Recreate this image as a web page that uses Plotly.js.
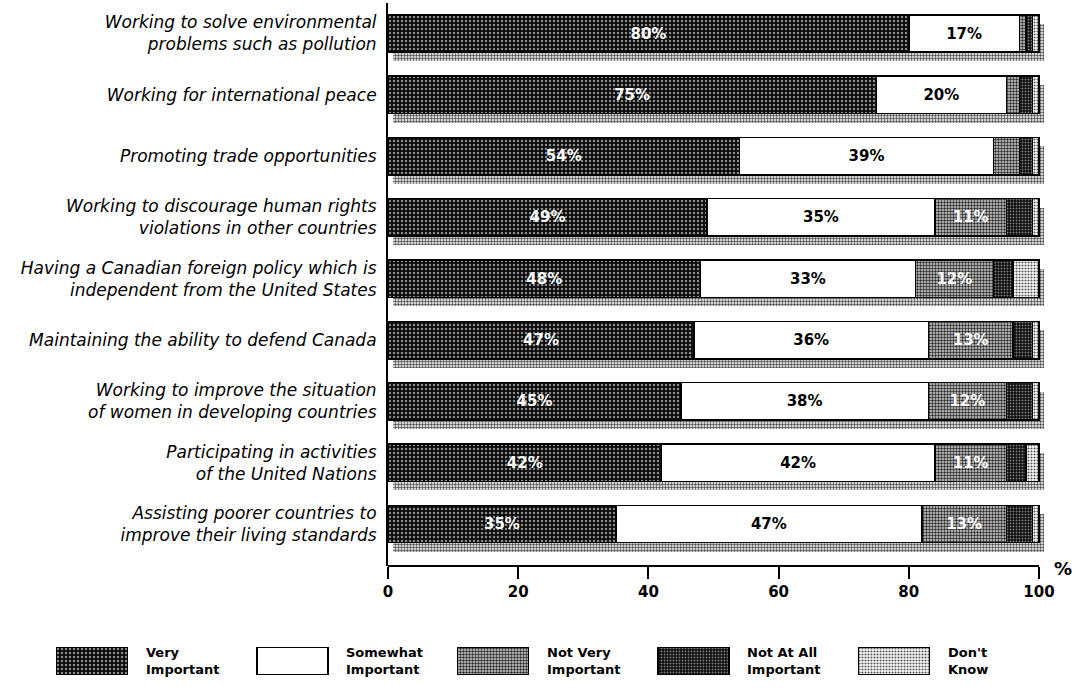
<!DOCTYPE html>
<html>
<head>
<meta charset="utf-8">
<script src="https://cdn.plot.ly/plotly-3.0.1.min.js"></script>
<style>html,body{margin:0;padding:0;background:#fff;}#chart{width:1076px;height:691px;}</style>
</head>
<body>
<div id="chart"></div>
<script>
// ---- data ----
const categories = [
  "Working to solve environmental<br>problems such as pollution",
  "Working for international peace",
  "Promoting trade opportunities",
  "Working to discourage human rights<br>violations in other countries",
  "Having a Canadian foreign policy which is<br>independent from the United States",
  "Maintaining the ability to defend Canada",
  "Working to improve the situation<br>of women in developing countries",
  "Participating in activities<br>of the United Nations",
  "Assisting poorer countries to<br>improve their living standards"
];
const veryImportant     = [80, 75, 54, 49, 48, 47, 45, 42, 35];
const somewhatImportant = [17, 20, 39, 35, 33, 36, 38, 42, 47];
const notVeryImportant  = [ 1,  2,  4, 11, 12, 13, 12, 11, 13];
const notAtAllImportant = [ 1,  2,  2,  4,  3,  3,  4,  3,  4];
const dontKnow          = [ 1,  1,  1,  1,  4,  1,  1,  2,  1];
const seriesNames = ["Very<br>Important", "Somewhat<br>Important", "Not Very<br>Important", "Not At All<br>Important", "Don't<br>Know"];
const xTickVals = [0, 20, 40, 60, 80, 100];
const xTickText = ["0", "20", "40", "60", "80", "100"];
const labelledSeries = [true, true, true, false, false];

// ---- styles ----
const W = 1076, H = 691;
const px0 = 388, px100 = 1039;           // pixel of 0% and 100%
const pxPerUnit = (px100 - px0) / 100;
const xMax = 101.5;
const plotTop = 3, plotBottom = 566;
const yDomain = [(H - plotBottom) / H, (H - plotTop) / H];
const yRange = [8.685, -0.4975];
const shadowDown = 9 / 61.3;             // category units
const shadowRight = 5 / pxPerUnit;       // % units
const barWidth = 0.61;
const numFont = "DejaVu Sans, Liberation Sans, Arial, sans-serif";

const styles = [
  {color: "#0b0b0b", line: {color: "#000", width: 1.5}, pattern: {shape: ".", bgcolor: "#0b0b0b", fgcolor: "#8a8a8a", size: 4, solidity: 0.3}},
  {color: "#ffffff", line: {color: "#000", width: 1.5}},
  {color: "#cfcfcf", line: {color: "#000", width: 1.5}, pattern: {shape: ".", bgcolor: "#d4d4d4", fgcolor: "#262626", size: 3, solidity: 0.5}},
  {color: "#0b0b0b", line: {color: "#000", width: 1.5}, pattern: {shape: ".", bgcolor: "#0b0b0b", fgcolor: "#808080", size: 3, solidity: 0.3}},
  {color: "#ffffff", line: {color: "#000", width: 1.5}, pattern: {shape: ".", bgcolor: "#ffffff", fgcolor: "#555555", size: 3, solidity: 0.4}}
];
const textColors = ["#ffffff", "#000000", "#ffffff", "#ffffff", "#000000"];
const seriesValues = [veryImportant, somewhatImportant, notVeryImportant, notAtAllImportant, dontKnow];

const traces = [];
// drop-shadow bars (drawn on the lower, shifted axis)
const totals = categories.map((c, i) => seriesValues.reduce((s, arr) => s + arr[i], 0));
traces.push({
  type: "bar", orientation: "h", y: categories, x: totals,
  base: categories.map(() => shadowRight), width: barWidth,
  xaxis: "x", yaxis: "y",
  marker: {color: "#ffffff", line: {width: 0}, pattern: {shape: ".", bgcolor: "#ffffff", fgcolor: "#4a4a4a", size: 3, solidity: 0.5}},
  hoverinfo: "skip", showlegend: false
});
// stacked data bars
seriesValues.forEach((vals, k) => {
  traces.push({
    type: "bar", orientation: "h", y: categories, x: vals, width: barWidth,
    xaxis: "x", yaxis: "y2", name: seriesNames[k],
    marker: styles[k],
    text: vals.map(v => (labelledSeries[k] && v >= 10) ? v + "%" : ""),
    textposition: "inside", insidetextanchor: "middle", textangle: 0,
    constraintext: "none",
    insidetextfont: {family: numFont, size: 15, color: textColors[k], weight: "bold"},
    hoverinfo: "skip", showlegend: false
  });
});
// legend swatches (drawn as bars in their own small subplot)
const legStep = 200.5, legFirstCenter = 92, legBoxW = 71;
const legRange = [-legFirstCenter / legStep, (W - legFirstCenter) / legStep];
seriesNames.forEach((n, k) => {
  traces.push({
    type: "bar", x: [k], y: [1], width: legBoxW / legStep,
    xaxis: "x3", yaxis: "y3", marker: styles[k],
    hoverinfo: "skip", showlegend: false
  });
});

const annotations = seriesNames.map((n, k) => ({
  xref: "x3", yref: "y3", x: k + (legBoxW / 2 + 16) / legStep, y: 0.5,
  xanchor: "left", yanchor: "middle", align: "left", showarrow: false,
  text: n, font: {family: numFont, size: 13, color: "#000", weight: "bold"}
}));
annotations.push({
  xref: "paper", yref: "paper", x: 1063 / W, y: (H - 568) / H,
  xanchor: "center", yanchor: "middle", showarrow: false,
  text: "%", font: {family: numFont, size: 18, color: "#000", weight: "bold"}
});

const layout = {
  width: W, height: H, autosize: false,
  margin: {l: 0, r: 0, t: 0, b: 0, pad: 0},
  paper_bgcolor: "#ffffff", plot_bgcolor: "rgba(0,0,0,0)",
  barmode: "stack", bargap: 0, showlegend: false, hovermode: false,
  xaxis: {
    domain: [px0 / W, (px0 + xMax * pxPerUnit) / W], range: [0, xMax],
    anchor: "y2", showgrid: false, zeroline: false, showline: false,
    tickvals: xTickVals, ticktext: xTickText,
    ticks: "outside", ticklen: 12, tickwidth: 2, tickcolor: "#000",
    tickfont: {family: numFont, size: 15, color: "#000", weight: "bold"},
    automargin: false, fixedrange: true
  },
  yaxis: {
    domain: yDomain, type: "category", categoryorder: "array", categoryarray: categories,
    range: [yRange[0] - shadowDown, yRange[1] - shadowDown],
    visible: false, fixedrange: true
  },
  yaxis2: {
    domain: yDomain, type: "category", categoryorder: "array", categoryarray: categories,
    range: yRange, overlaying: "y", side: "left", anchor: "x",
    showgrid: false, zeroline: false, showline: true, linecolor: "#000", linewidth: 2,
    ticks: "", ticklabelstandoff: 6,
    tickfont: {family: numFont, size: 17, color: "#000", style: "italic"},
    automargin: false, fixedrange: true
  },
  xaxis3: {domain: [0, 1], range: legRange, anchor: "y3", visible: false, fixedrange: true},
  yaxis3: {domain: [(H - 675) / H, (H - 647) / H], range: [0, 1], anchor: "x3", visible: false, fixedrange: true},
  shapes: [{
    type: "line", xref: "x", yref: "paper", x0: 0, x1: 100, y0: yDomain[0], y1: yDomain[0],
    line: {color: "#000", width: 2}
  }],
  annotations: annotations
};

Plotly.newPlot("chart", traces, layout, {staticPlot: true, displayModeBar: false});
</script>
</body>
</html>
